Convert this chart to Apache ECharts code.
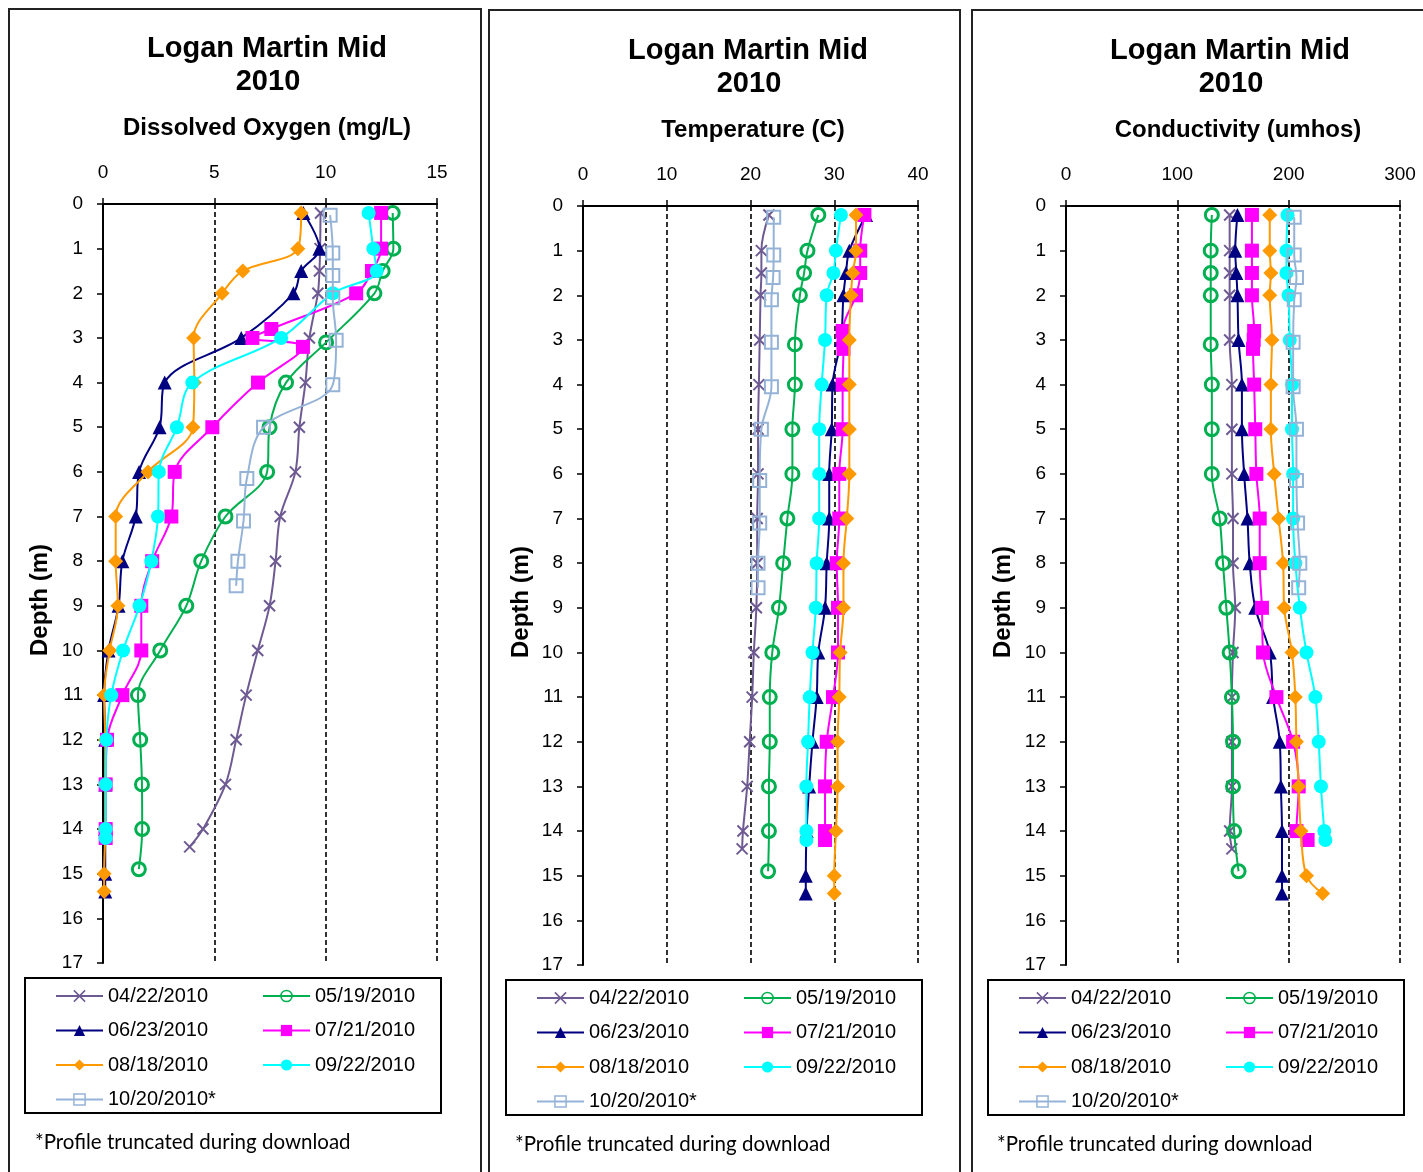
<!DOCTYPE html>
<html>
<head>
<meta charset="utf-8">
<script src="https://cdn.jsdelivr.net/npm/echarts@6/dist/echarts.min.js"></script>
<style>
html,body{margin:0;padding:0;background:#fff;}
#c{width:1423px;height:1172px;}
</style>
</head>
<body>
<div id="c"></div>
<script>
// ---------------- DATA ----------------
const dates = ['04/22/2010','05/19/2010','06/23/2010','07/21/2010','08/18/2010','09/22/2010','10/20/2010*'];
const panelTitles = ['Dissolved Oxygen (mg/L)','Temperature (C)','Conductivity (umhos)'];
const doTicks = [0,5,10,15];
const tempTicks = [0,10,20,30,40];
const condTicks = [0,100,200,300];
const depthTicks = [0,1,2,3,4,5,6,7,8,9,10,11,12,13,14,15,16,17];

const depth0422 = [0.2,1,1.5,2,3,4,5,6,7,8,9,10,11,12,13,14,14.4];
const do0422    = [9.77,9.75,9.72,9.65,9.27,9.09,8.82,8.64,7.96,7.75,7.48,6.95,6.43,5.98,5.5,4.49,3.89];
const temp0422  = [22.2,21.3,21.3,21.2,21.1,21.0,20.9,20.9,20.8,20.8,20.7,20.4,20.2,19.9,19.6,19.1,19.0];
const cond0422  = [147,147,147,147,147,149,149,149,150,150,152,150,149,149,149,147,149];

const depth0519 = [0.2,1,1.5,2,3.1,4,5,6,7,8,9,10,11,12,13,14,14.9];
const do0519    = [13.01,13.04,12.56,12.19,10.02,8.22,7.48,7.37,5.5,4.41,3.74,2.57,1.57,1.67,1.75,1.76,1.61];
const temp0519  = [28.1,26.8,26.4,25.9,25.3,25.3,25.0,25.0,24.4,23.9,23.4,22.6,22.3,22.3,22.2,22.2,22.1];
const cond0519  = [131,130,130,130,130,131,131,131,138,141,144,147,149,150,150,151,155];

const depth0623 = [0.2,1,1.5,2,3,4,5,6,7,8,9,10,11,12,13,14,15,15.4];
const do0623    = [9.0,9.72,8.9,8.55,6.21,2.77,2.54,1.62,1.47,0.87,0.7,0.25,0.05,0.1,0.1,0.1,0.1,0.1];
const temp0623  = [33.8,31.8,31.4,31.1,30.8,29.8,29.7,29.4,29.4,29.1,28.9,28.1,27.9,27.4,27.0,26.7,26.6,26.6];
const cond0623  = [154,152,153,154,155,158,158,160,163,165,170,183,186,192,193,194,194,194];

const depth0721 = [0.2,1,1.5,2,2.8,3,3.2,4,5,6,7,8,9,10,11,12,13,14,14.2];
const do0721    = [12.49,12.49,12.08,11.37,7.56,6.71,8.98,6.96,4.91,3.22,3.07,2.21,1.72,1.72,0.87,0.18,0.12,0.12,0.12];
const temp0721  = [33.6,33.1,33.1,32.6,31.0,31.1,31.1,31.0,31.0,30.6,30.6,30.3,30.45,30.45,29.85,29.1,28.9,28.9,28.9];
const cond0721  = [167,167,167,167,169,168.6,168,169,170,171,174,174,176,177,189,204,209,207,217];

const depth0818 = [0.2,1,1.5,2,3,4,5,6,7,8,9,10,11,12,13,14,15,15.4];
const do0818    = [8.9,8.75,6.28,5.35,4.07,4.1,4.04,2.02,0.57,0.57,0.67,0.3,0.05,0.1,0.1,0.1,0.05,0.05];
const temp0818  = [32.6,32.6,32.2,32.0,31.8,31.8,31.8,31.8,31.5,31.1,31.1,30.7,30.6,30.4,30.4,30.2,30.0,30.0];
const cond0818  = [183,183,184,183,185,184,184,187,191,195,196,203,206,207,209,211,216,230.5];

const depth0922 = [0.2,1,1.5,2,3,4,5,6,7,8,9,10,11,12,13,14,14.2];
const do0922    = [11.93,12.14,12.29,10.32,8.0,4.01,3.32,2.51,2.47,2.17,1.64,0.9,0.37,0.15,0.12,0.12,0.12];
const temp0922  = [30.8,30.2,29.9,29.1,28.9,28.5,28.2,28.2,28.2,27.9,27.8,27.4,27.07,26.87,26.67,26.67,26.67];
const cond0922  = [199,198,198,200,201,203,203,204,204,206,210,216,224,227,229,232,233];

const depth1020 = [0.25,1.1,1.6,2.1,3.05,4.05,5.0,6.15,7.1,8.0,8.55];
const do1020    = [10.2,10.32,10.32,10.32,10.47,10.32,7.21,6.46,6.31,6.06,5.98];
const temp1020  = [22.77,22.77,22.7,22.5,22.5,22.5,21.3,21.1,21.1,20.9,20.9];
const cond1020  = [205,205,207,205,204,204,207,207,208,210,209];

// ---------------- STYLES ----------------
const depthsByDate = [depth0422,depth0519,depth0623,depth0721,depth0818,depth0922,depth1020];
const valuesByPanel = [
  [do0422,do0519,do0623,do0721,do0818,do0922,do1020],
  [temp0422,temp0519,temp0623,temp0721,temp0818,temp0922,temp1020],
  [cond0422,cond0519,cond0623,cond0721,cond0818,cond0922,cond1020]
];
const axisMax = [15,40,300];
const axisInt = [5,10,100];

const styles = [
  {symbol:'path://M0,0L10,10M10,0L0,10', size:11, color:'#6E5A92', hollow:true, bw:2},
  {symbol:'circle', size:13, color:'#00B050', hollow:true, bw:3},
  {symbol:'triangle', size:14, color:'#000080'},
  {symbol:'rect', size:14, color:'#FF00FF'},
  {symbol:'diamond', size:15, color:'#FF9900'},
  {symbol:'circle', size:14, color:'#00FFFF'},
  {symbol:'rect', size:13, color:'#95B3D7', hollow:true, bw:2}
];

const grids = [
  {left:103, top:204, width:334, height:759},
  {left:583, top:206, width:335, height:759},
  {left:1066, top:206, width:334, height:759}
];
const panelBox = [[9,9,472],[489,10,471],[972,10,470]];
const titleX = [267,748,1230];
const subX = [267,753,1238];
const titleY = [48,50,50];
const depthLabelX = [40,521,1003];
const depthLabelY = [600,602,602];
const legendRows = [985,987,987];
const legendLeft = [[55,262],[536,743],[1018,1225]];
const legendBox = [[25,978,416,135],[506,980,416,135],[988,980,416,135]];
const footX = [35,515,997];
const footY = [1142,1144,1144];

const FONT = "'Liberation Sans', Arial, Helvetica, sans-serif";

const xAxes = [], yAxes = [], series = [], legends = [], graphics = [];

for (let p = 0; p < 3; p++) {
  xAxes.push({
    type:'value', gridIndex:p, position:'top', min:0, max:axisMax[p], interval:axisInt[p],
    axisLine:{show:true, onZero:false, lineStyle:{color:'#000', width:2}},
    axisTick:{show:true, inside:false, length:6, lineStyle:{color:'#000', width:1.5}},
    axisLabel:{color:'#000', fontSize:19, fontFamily:FONT, margin:22},
    splitLine:{show:true, lineStyle:{color:'#000', width:1.6, type:[5,3]}}
  });
  yAxes.push({
    type:'value', gridIndex:p, inverse:true, min:0, max:17, interval:1,
    axisLine:{show:true, onZero:false, lineStyle:{color:'#000', width:2}},
    axisTick:{show:true, inside:false, length:6, lineStyle:{color:'#000', width:1.5}},
    axisLabel:{color:'#000', fontSize:19, fontFamily:FONT, margin:20},
    splitLine:{show:false}
  });
  for (let s = 0; s < 7; s++) {
    const st = styles[s];
    const d = depthsByDate[s];
    const vals = valuesByPanel[p][s];
    series.push({
      name: dates[s], type:'line', xAxisIndex:p, yAxisIndex:p,
      data: vals.map((v,i) => [v, d[i]]),
      smooth: 0.35,
      symbol: st.symbol, symbolSize: st.size, showSymbol:true,
      lineStyle:{color:st.color, width:2},
      itemStyle: st.hollow ? {color:'rgba(0,0,0,0)', borderColor:st.color, borderWidth:st.bw}
                           : {color:st.color, borderWidth:0},
      emphasis:{disabled:true},
      z: 2 + s
    });
  }
  const legItem = (i) => {
    const st = styles[i];
    return st.hollow ? {name:dates[i], itemStyle:{borderWidth:1.5}} : {name:dates[i]};
  };
  const legCommon = {
    orient:'vertical', top:legendRows[p], padding:0, itemGap:12.5,
    itemWidth:47, itemHeight:14, selectedMode:false,
    textStyle:{color:'#000', fontSize:20, fontFamily:FONT, lineHeight:22}
  };
  legends.push(Object.assign({}, legCommon, {left:legendLeft[p][0], data:[legItem(0),legItem(2),legItem(4),legItem(6)]}));
  legends.push(Object.assign({}, legCommon, {left:legendLeft[p][1], data:[legItem(1),legItem(3),legItem(5)]}));

  // panel border
  graphics.push({type:'rect', silent:true, z:0,
    shape:{x:panelBox[p][0], y:panelBox[p][1], width:panelBox[p][2], height:1300},
    style:{fill:'none', stroke:'#222', lineWidth:2}});
  // legend box
  graphics.push({type:'rect', silent:true, z:0,
    shape:{x:legendBox[p][0], y:legendBox[p][1], width:legendBox[p][2], height:legendBox[p][3]},
    style:{fill:'none', stroke:'#000', lineWidth:2}});
  // titles
  graphics.push({type:'text', silent:true, x:titleX[p], y:titleY[p]+1,
    style:{text:'Logan Martin Mid', fill:'#000', font:"bold 29px " + FONT, textAlign:'center', textVerticalAlign:'middle', align:'center', verticalAlign:'middle'}});
  graphics.push({type:'text', silent:true, x:titleX[p]+1, y:titleY[p]+34,
    style:{text:'2010', fill:'#000', font:"bold 29px " + FONT, textAlign:'center', textVerticalAlign:'middle', align:'center', verticalAlign:'middle'}});
  graphics.push({type:'text', silent:true, x:subX[p], y:titleY[p]+80,
    style:{text:panelTitles[p], fill:'#000', font:"bold 24px " + FONT, textAlign:'center', textVerticalAlign:'middle', align:'center', verticalAlign:'middle'}});
  // depth axis title
  graphics.push({type:'text', silent:true, x:depthLabelX[p], y:depthLabelY[p], rotation:Math.PI/2,
    style:{text:'Depth (m)', fill:'#000', font:"bold 24px " + FONT, textAlign:'center', textVerticalAlign:'middle', align:'center', verticalAlign:'middle'}});
  // footnote
  graphics.push({type:'text', silent:true, x:footX[p], y:footY[p],
    style:{text:'*Profile truncated during download', fill:'#000', font:"20.5px Lato, 'Open Sans', sans-serif", textAlign:'left', textVerticalAlign:'middle', align:'left', verticalAlign:'middle'}});
}

const chart = echarts.init(document.getElementById('c'), null, {renderer:'canvas'});
chart.setOption({
  animation:false,
  backgroundColor:'#fff',
  grid: grids.map(g => Object.assign({containLabel:false, outerBoundsMode:'none'}, g)),
  xAxis: xAxes,
  yAxis: yAxes,
  legend: legends,
  series: series,
  graphic: {elements: graphics}
});
</script>
</body>
</html>
